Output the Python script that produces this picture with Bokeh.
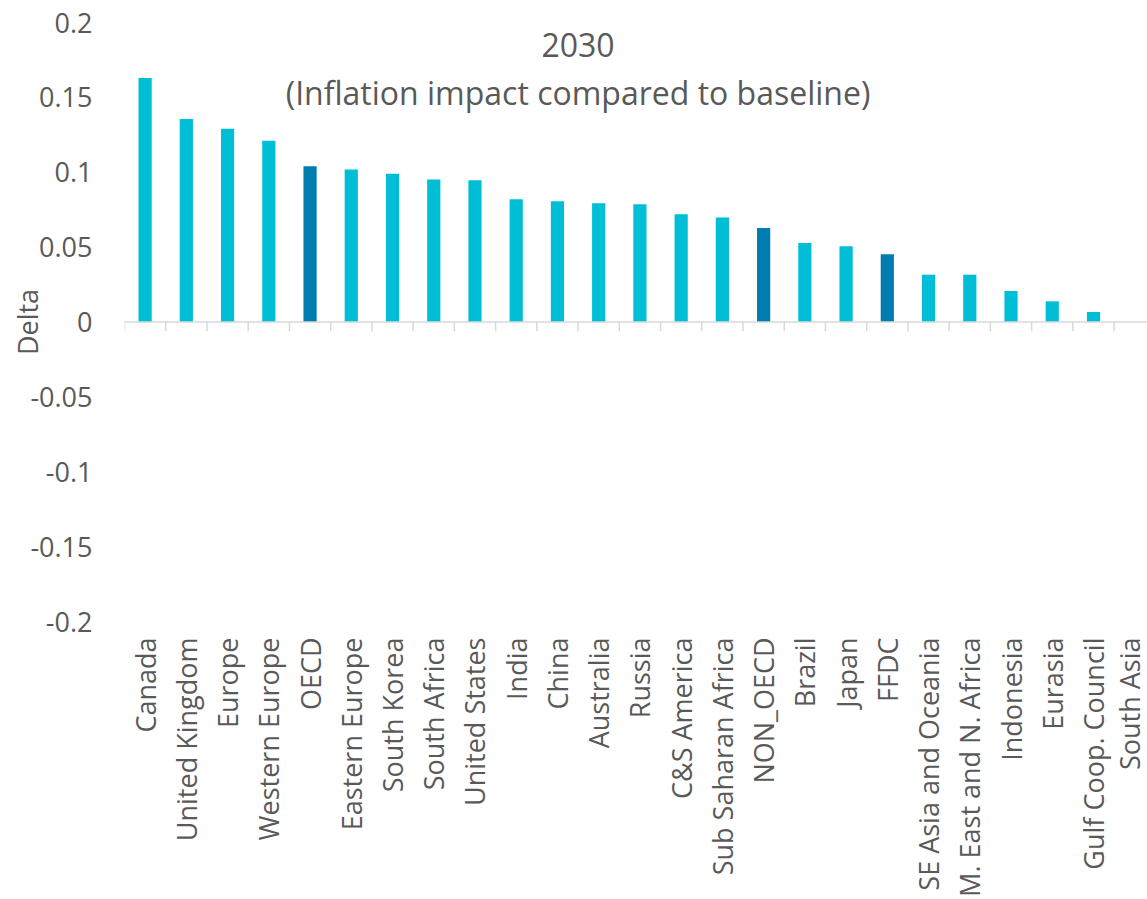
import math
from bokeh.plotting import figure
from bokeh.models import (Range1d, LinearAxis, FixedTicker, CustomJSTickFormatter,
                          Span, Label, ColumnDataSource)
from bokeh.embed import file_html
from bokeh.resources import INLINE

categories = ["Canada", "United Kingdom", "Europe", "Western Europe", "OECD",
              "Eastern Europe", "South Korea", "South Africa", "United States",
              "India", "China", "Australia", "Russia", "C&S America",
              "Sub Saharan Africa", "NON_OECD", "Brazil", "Japan", "FFDC",
              "SE Asia and Oceania", "M. East and N. Africa", "Indonesia",
              "Eurasia", "Gulf Coop. Council", "South Asia"]
delta = [0.163, 0.1356, 0.129, 0.121, 0.104,
         0.1018, 0.099, 0.0951, 0.0946,
         0.0819, 0.0806, 0.0793, 0.0786, 0.0719,
         0.0697, 0.0627, 0.0528, 0.0506, 0.0452,
         0.0316, 0.0316, 0.0207,
         0.0138, 0.0067, 0.0]
aggregates = ["OECD", "NON_OECD", "FFDC"]
y_ticks = [-0.2, -0.15, -0.1, -0.05, 0, 0.05, 0.1, 0.15, 0.2]
title_lines = ["2030", "(Inflation impact compared to baseline)"]
y_label = "Delta"

CYAN = "#00BED6"
DARK = "#007DB0"
TXT = "#595959"
FONT = "Open Sans"

n = len(categories)
xs = [i + 0.5 for i in range(n)]
colors = [DARK if c in aggregates else CYAN for c in categories]
src = ColumnDataSource(dict(x=xs, top=delta, color=colors, name=categories))

p = figure(width=1147, height=899, output_backend="svg", toolbar_location=None,
           x_range=Range1d(0, 24.81), y_range=Range1d(-0.2, 0.2),
           x_axis_type=None, y_axis_type=None,
           min_border_left=124, min_border_top=22, min_border_right=0,
           min_border_bottom=278)
p.outline_line_color = None
p.xgrid.visible = False
p.ygrid.visible = False
p.background_fill_color = "white"
p.border_fill_color = "white"

# zero line and category-boundary ticks
p.add_layout(Span(location=0, dimension="width", line_color="#D9D9D9", line_width=1.5))
bounds = list(range(n + 1))
p.segment(x0=bounds, x1=bounds, y0=[0] * len(bounds), y1=[-0.0062] * len(bounds),
          line_color="#D9D9D9", line_width=1.5)

p.vbar(x="x", top="top", width=0.32, bottom=0, source=src,
       fill_color="color", line_color=None)

# y axis
yaxis = LinearAxis(ticker=FixedTicker(ticks=y_ticks),
                   formatter=CustomJSTickFormatter(code="return String(Number(tick.toFixed(3)));"))
yaxis.axis_line_color = None
yaxis.major_tick_line_color = None
yaxis.minor_tick_line_color = None
yaxis.major_label_standoff = 26
yaxis.major_label_text_font = FONT
yaxis.major_label_text_font_size = "27px"
yaxis.major_label_text_color = TXT
yaxis.axis_label = y_label
yaxis.axis_label_text_font = FONT
yaxis.axis_label_text_font_size = "27px"
yaxis.axis_label_text_font_style = "normal"
yaxis.axis_label_text_color = TXT
yaxis.axis_label_standoff = -19
p.add_layout(yaxis, "left")

# x axis (labels only)
xaxis = LinearAxis(ticker=FixedTicker(ticks=xs),
                   formatter=CustomJSTickFormatter(args=dict(labels=categories),
                                                   code="return labels[Math.floor(tick)];"))
xaxis.axis_line_color = None
xaxis.major_tick_line_color = None
xaxis.minor_tick_line_color = None
xaxis.major_label_orientation = math.pi / 2
xaxis.major_label_standoff = 10
xaxis.major_label_text_font = FONT
xaxis.major_label_text_font_size = "27px"
xaxis.major_label_text_color = TXT
p.add_layout(xaxis, "below")

# title inside plot area
title_x = 11.0
for txt, yv in zip(title_lines, [0.185, 0.153]):
    p.add_layout(Label(x=title_x, y=yv, text=txt, text_align="center",
                       text_baseline="middle", text_font=FONT,
                       text_font_size="32px", text_color=TXT))

open("out.html", "w").write(file_html(p, INLINE))
